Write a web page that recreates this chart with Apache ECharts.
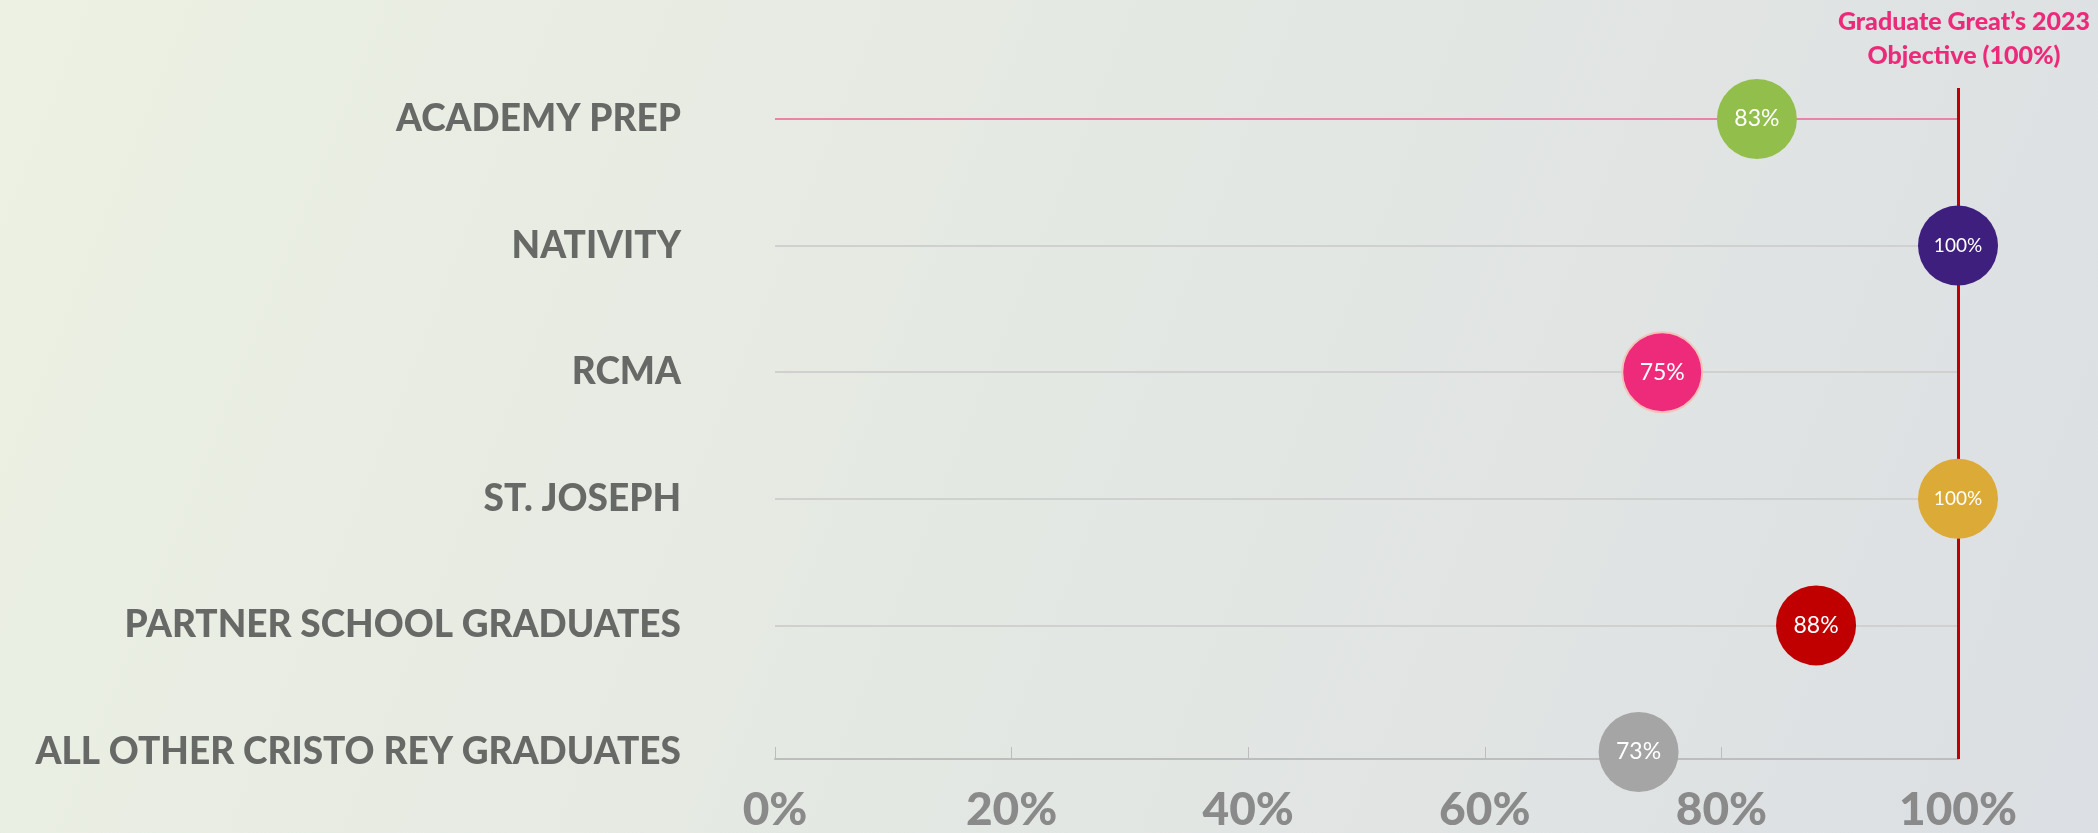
<!DOCTYPE html>
<html>
<head>
<meta charset="utf-8">
<script src="https://cdn.jsdelivr.net/npm/echarts@6/dist/echarts.min.js"></script>
<style>
    html, body { margin: 0; padding: 0; }
    #chart { width: 2098px; height: 833px; }
</style>
</head>
<body>
<div id="chart"></div>
<script>
// schools, top to bottom
var schools = ['ACADEMY PREP', 'NATIVITY', 'RCMA', 'ST. JOSEPH', 'PARTNER SCHOOL GRADUATES', 'ALL OTHER CRISTO REY GRADUATES'];
// graduation rate, percent
var rates = [83, 100, 75, 100, 88, 73];
var dotColors = ['#92bf4b', '#3e1f7d', '#ee2a7b', '#dcaa36', '#c00000', '#a5a5a5'];
// row guide colours (first row is pink, last has none)
var rowLineColors = ['#e983a9', '#cfd0cf', '#cfd0cf', '#cfd0cf', '#cfd0cf', 'rgba(0,0,0,0)'];
var objective = 100;
var objectiveText = 'Graduate Great\u2019s 2023\nObjective (100%)';

var myChart = echarts.init(document.getElementById('chart'));

var dots = rates.map(function (v, i) {
    var item = { value: [v, schools[i]], itemStyle: { color: dotColors[i] } };
    if (i === 2) { // RCMA has a soft outline
        item.itemStyle.borderColor = '#f3c2b8';
        item.itemStyle.borderWidth = 2;
    }
    if (v === 100) {
        item.label = { fontSize: 19 };
    }
    return item;
});

myChart.setOption({
    backgroundColor: {
        type: 'linear', x: 0, y: 0, x2: 1, y2: 1,
        colorStops: [
            { offset: 0, color: '#ecf1e3' },
            { offset: 1, color: '#dcdfe3' }
        ]
    },
    title: {
        text: objectiveText,
        left: 1959,
        top: 0,
        textAlign: 'center',
        textStyle: {
            color: '#ec2a7a',
            fontFamily: 'Lato',
            fontWeight: 900,
            fontSize: 25,
            lineHeight: 34,
            align: 'center'
        }
    },
    grid: [
        { left: 775, right: 140, top: 88, bottom: 71 },  // axis + objective line
        { left: 775, right: 140, top: 119, bottom: 81 }  // rows
    ],
    xAxis: [
        {
            gridIndex: 0,
            type: 'value',
            min: 0,
            max: 100,
            interval: 20,
            axisLine: { show: true, lineStyle: { color: '#bdbdbd', width: 2 } },
            axisTick: { show: true, inside: true, length: 12, lineStyle: { color: '#bdbdbd' } },
            splitLine: { show: false },
            axisLabel: {
                formatter: '{value}%',
                color: '#8a8a8a',
                fontFamily: 'Lato',
                fontWeight: 900,
                fontSize: 46,
                margin: 28
            }
        },
        {
            gridIndex: 1,
            type: 'value',
            min: 0,
            max: 100,
            show: false
        }
    ],
    yAxis: [
        { gridIndex: 0, type: 'value', show: false },
        {
            gridIndex: 1,
            type: 'category',
            data: schools,
            inverse: true,
            boundaryGap: false,
            axisLine: { show: false },
            axisTick: { show: false },
            splitLine: { show: true, lineStyle: { color: rowLineColors, width: 2 } },
            axisLabel: {
                color: '#676966',
                fontFamily: 'Lato',
                fontWeight: 900,
                fontSize: 37,
                margin: 94
            }
        }
    ],
    series: [
        {
            type: 'scatter',
            xAxisIndex: 0,
            yAxisIndex: 0,
            data: [],
            markLine: {
                silent: true,
                symbol: 'none',
                label: { show: false },
                lineStyle: { color: '#c00000', width: 3, type: 'solid' },
                data: [{ xAxis: objective }]
            }
        },
        {
            type: 'scatter',
            xAxisIndex: 1,
            yAxisIndex: 1,
            clip: false,
            symbolSize: 80,
            data: dots,
            itemStyle: { opacity: 1 },
            label: {
                show: true,
                position: 'inside',
                formatter: function (p) { return p.value[0] + '%'; },
                color: '#ffffff',
                fontFamily: 'Lato',
                fontSize: 23
            },
            z: 5
        }
    ]
});
</script>
</body>
</html>
